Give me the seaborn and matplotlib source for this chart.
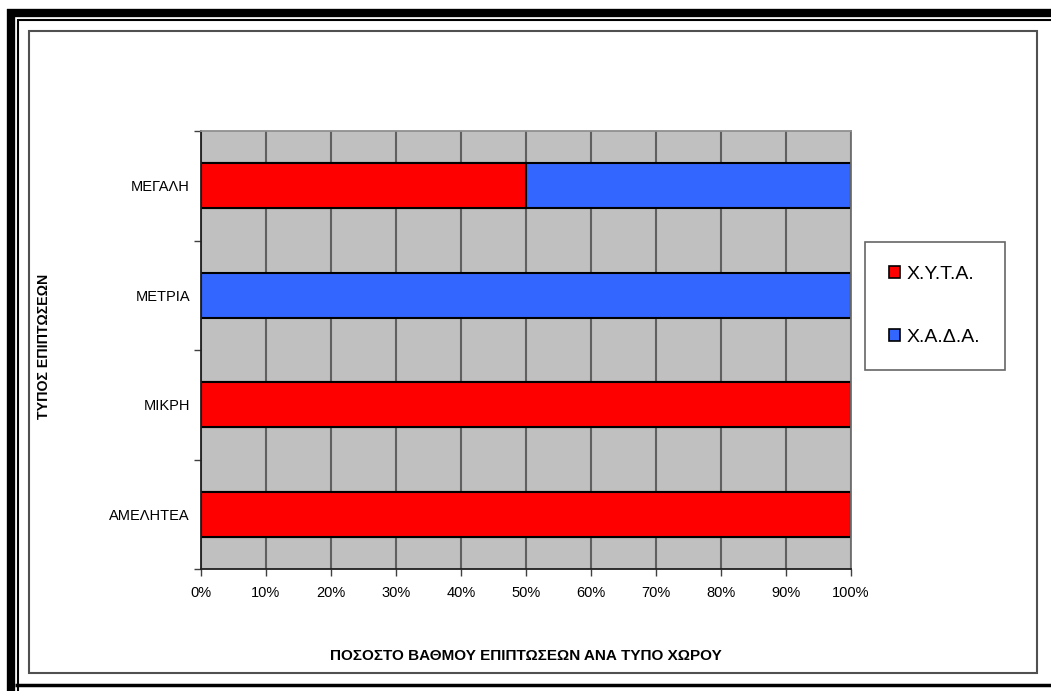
import numpy as np
import pandas as pd
import seaborn as sns
import matplotlib.pyplot as plt
from matplotlib.patches import Patch, Rectangle
from matplotlib.lines import Line2D

# data (percent of cases per site type)
categories = ['ΜΕΓΑΛΗ', 'ΜΕΤΡΙΑ', 'ΜΙΚΡΗ', 'ΑΜΕΛΗΤΕΑ']
xyta = [50, 0, 100, 100]    # Χ.Υ.Τ.Α.
xada = [50, 100, 0, 0]      # Χ.Α.Δ.Α.
x_ticks = list(range(0, 101, 10))
x_ticklabels = [f'{t}%' for t in x_ticks]

RED = '#FF0000'
BLUE = '#3366FF'

sns.set_style('white')
plt.rcParams['font.family'] = ['Liberation Sans', 'DejaVu Sans']
plt.rcParams['text.color'] = 'black'
plt.rcParams['xtick.color'] = 'black'
plt.rcParams['ytick.color'] = 'black'

df = pd.DataFrame({'cat': categories, 'xyta': xyta, 'xada': xada})
df['total'] = df['xyta'] + df['xada']

W, H = 1051, 691
fig = plt.figure(figsize=(W / 100, H / 100), dpi=100)
fig.patch.set_facecolor('white')

def fx(px):
    return px / W

def fy(py):
    return 1 - py / H

ax = fig.add_axes([fx(201), fy(569), fx(851) - fx(201), fy(131) - fy(569)])
ax.set_facecolor('#C0C0C0')

# stacked bars: full length in blue, red part drawn over it
sns.barplot(data=df, x='total', y='cat', color=BLUE, orient='h', width=0.41,
            edgecolor='black', linewidth=1.5, saturation=1, ax=ax)
sns.barplot(data=df[df['xyta'] > 0], x='xyta', y='cat', color=RED, orient='h', width=0.41,
            edgecolor='black', linewidth=1.5, saturation=1, ax=ax, order=categories)

ax.set_xlim(0, 100)
ax.set_ylim(3.5, -0.5)
ax.set_xticks(x_ticks)
ax.set_xticklabels(x_ticklabels, fontsize=10.5)
ax.set_yticks(range(len(categories)))
ax.set_yticklabels(categories, fontsize=10.5)
ax.set_yticks(np.arange(-0.5, len(categories), 1), minor=True)
ax.tick_params(axis='y', which='major', length=0, pad=8)
ax.tick_params(axis='y', which='minor', length=5, width=1, color='#404040', left=True)
ax.tick_params(axis='x', which='major', length=5, width=1, color='#404040', pad=7, bottom=True)

ax.grid(axis='x', color='#606060', linewidth=1.5)
ax.set_axisbelow(True)
for side, col in [('left', '#202020'), ('bottom', '#202020'), ('top', '#909090'), ('right', '#707070')]:
    ax.spines[side].set_visible(True)
    ax.spines[side].set_color(col)
    ax.spines[side].set_linewidth(1.3)

ax.set_xlabel('')
ax.set_ylabel('')
fig.text(fx(526), fy(656), 'ΠΟΣΟΣΤΟ ΒΑΘΜΟΥ ΕΠΙΠΤΩΣΕΩΝ ΑΝΑ ΤΥΠΟ ΧΩΡΟΥ',
         ha='center', va='center', fontsize=11, fontweight='bold', color='black')
fig.text(fx(44), fy(346), 'ΤΥΠΟΣ ΕΠΙΠΤΩΣΕΩΝ', rotation=90,
         ha='center', va='center', fontsize=10.2, fontweight='bold', color='black')

# legend
handles = [Patch(facecolor=RED, edgecolor='black', linewidth=1.2, label='Χ.Υ.Τ.Α.'),
           Patch(facecolor=BLUE, edgecolor='black', linewidth=1.2, label='Χ.Α.Δ.Α.')]
leg = fig.legend(handles=handles, loc='center', bbox_to_anchor=(fx(935), fy(306)),
                 fontsize=14, frameon=True, fancybox=False, edgecolor='#404040',
                 borderpad=1.25, labelspacing=2.35, handlelength=0.55, handleheight=0.55,
                 handletextpad=0.35)
leg.get_frame().set_linewidth(1.2)
for t in leg.get_texts():
    t.set_color('black')

# chart area frame and page border
fig.add_artist(Rectangle((fx(29), fy(673)), fx(1037) - fx(29), fy(31) - fy(673),
                         transform=fig.transFigure, fill=False, edgecolor='#505050', linewidth=1.5))
border = dict(transform=fig.transFigure, color='black', solid_capstyle='butt')
fig.add_artist(Line2D([fx(11), fx(11)], [fy(9), fy(691)], linewidth=6, **border))
fig.add_artist(Line2D([fx(7), fx(1051)], [fy(13), fy(13)], linewidth=6, **border))
fig.add_artist(Line2D([fx(18), fx(18)], [fy(19), fy(691)], linewidth=1.5, **border))
fig.add_artist(Line2D([fx(18), fx(1051)], [fy(19.5), fy(19.5)], linewidth=1.5, **border))
fig.add_artist(Line2D([fx(15), fx(1051)], [fy(685), fy(685)], linewidth=2.5, **border))

fig.savefig('out.png', dpi=100)
